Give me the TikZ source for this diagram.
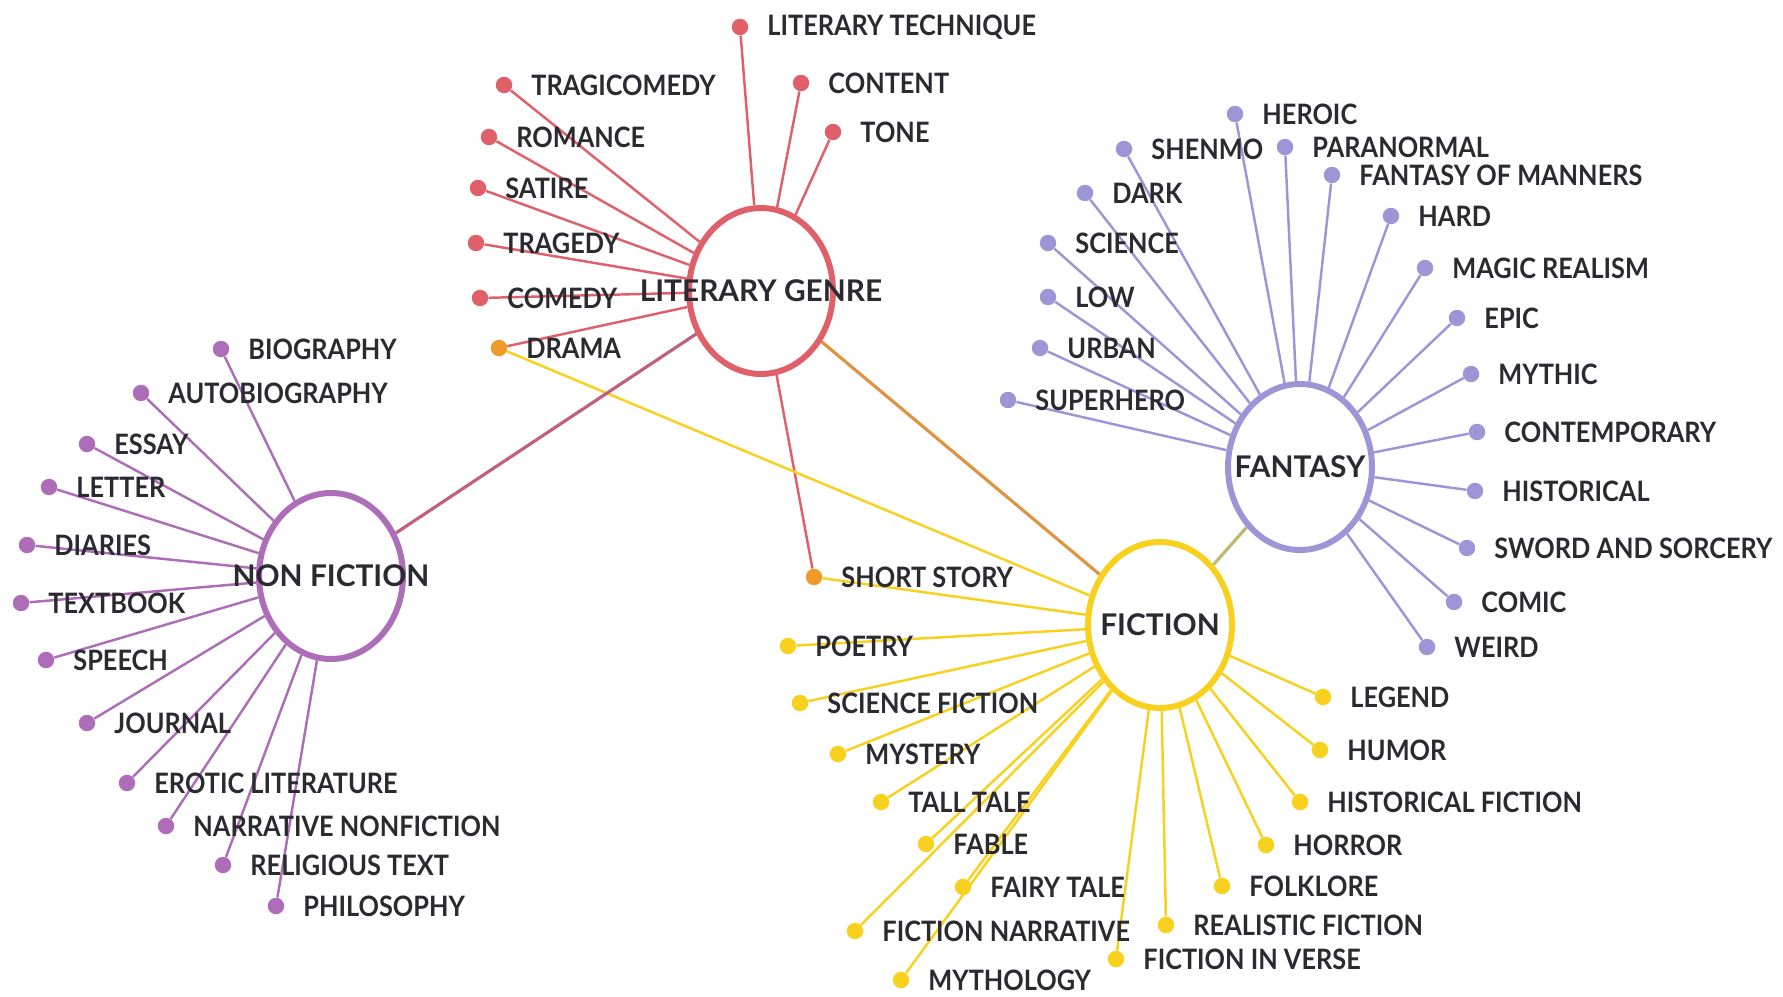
\documentclass[tikz,border=0pt]{standalone}
\usepackage{fontspec}
\setmainfont{Lato}
\newfontfamily\leaffont{Lato}[FakeStretch=0.9]
\usetikzlibrary{shapes.geometric,backgrounds}

\definecolor{ink}{HTML}{2A2A30}
\definecolor{genrered}{HTML}{E0606A}
\definecolor{nonpurple}{HTML}{AE6DB9}
\definecolor{fantlav}{HTML}{9C96D6}
\definecolor{fictyellow}{HTML}{F8D01E}
\definecolor{bothorange}{HTML}{EE9B2C}
\definecolor{nfgenre}{HTML}{C0607E}
\definecolor{genrefict}{HTML}{DE9440}
\definecolor{fantfict}{HTML}{BFB870}

\tikzset{
  hub/.style={ellipse,draw=#1,line width=3.4pt,fill=white,
    minimum width=2.88cm,minimum height=3.32cm,inner sep=0pt},
  hubtext/.style={font=\bfseries\fontsize{17}{20}\selectfont,text=ink,inner sep=0pt},
  leaftext/.style={font=\leaffont\bfseries\fontsize{16}{19}\selectfont,
    text=ink,inner sep=0pt,xshift=0.37cm},
  leaf/.style 2 args={circle,fill=#1,minimum size=0.33cm,inner sep=0pt,
    label={[leaftext]right:#2}},
  spoke/.style={draw=#1,line width=1.4pt},
  link/.style={draw=#1,line width=1.8pt}
}

\begin{document}
\begin{tikzpicture}[x=0.02cm,y=-0.02cm]
	\useasboundingbox (0,0) rectangle (1783,997);

	% hubs
	\node[hub=genrered,label={[hubtext]center:LITERARY GENRE}] (genre) at (761,291) {};
	\node[hub=nonpurple,label={[hubtext]center:NON FICTION}] (nonfict) at (331,576) {};
	\node[hub=fantlav,label={[hubtext]center:FANTASY}] (fantasy) at (1300,467) {};
	\node[hub=fictyellow,label={[hubtext]center:FICTION}] (fiction) at (1160,625) {};

	% literary genre
	\node[leaf={genrered}{LITERARY TECHNIQUE}] (technique) at (740,27) {};
	\node[leaf={genrered}{TRAGICOMEDY}] (tragicomedy) at (504,85) {};
	\node[leaf={genrered}{CONTENT}] (content) at (801,83) {};
	\node[leaf={genrered}{TONE}] (tone) at (833,132) {};
	\node[leaf={genrered}{ROMANCE}] (romance) at (489,137) {};
	\node[leaf={genrered}{SATIRE}] (satire) at (478,188) {};
	\node[leaf={genrered}{TRAGEDY}] (tragedy) at (476,243) {};
	\node[leaf={genrered}{COMEDY}] (comedy) at (480,298) {};
	\node[leaf={bothorange}{DRAMA}] (drama) at (499,348) {};

	% non fiction
	\node[leaf={nonpurple}{BIOGRAPHY}] (biography) at (221,349) {};
	\node[leaf={nonpurple}{AUTOBIOGRAPHY}] (autobiography) at (141,393) {};
	\node[leaf={nonpurple}{ESSAY}] (essay) at (87,444) {};
	\node[leaf={nonpurple}{LETTER}] (letter) at (49,487) {};
	\node[leaf={nonpurple}{DIARIES}] (diaries) at (27,545) {};
	\node[leaf={nonpurple}{TEXTBOOK}] (textbook) at (21,603) {};
	\node[leaf={nonpurple}{SPEECH}] (speech) at (46,660) {};
	\node[leaf={nonpurple}{JOURNAL}] (journal) at (87,723) {};
	\node[leaf={nonpurple}{EROTIC LITERATURE}] (erotic) at (127,783) {};
	\node[leaf={nonpurple}{NARRATIVE NONFICTION}] (narrative) at (166,826) {};
	\node[leaf={nonpurple}{RELIGIOUS TEXT}] (religious) at (223,865) {};
	\node[leaf={nonpurple}{PHILOSOPHY}] (philosophy) at (276,906) {};

	% fantasy
	\node[leaf={fantlav}{HEROIC}] (heroic) at (1235,114) {};
	\node[leaf={fantlav}{SHENMO}] (shenmo) at (1124,149) {};
	\node[leaf={fantlav}{PARANORMAL}] (paranormal) at (1285,147) {};
	\node[leaf={fantlav}{FANTASY OF MANNERS}] (manners) at (1332,175) {};
	\node[leaf={fantlav}{DARK}] (dark) at (1085,193) {};
	\node[leaf={fantlav}{HARD}] (hard) at (1391,216) {};
	\node[leaf={fantlav}{SCIENCE}] (science) at (1048,243) {};
	\node[leaf={fantlav}{MAGIC REALISM}] (magic) at (1425,268) {};
	\node[leaf={fantlav}{LOW}] (low) at (1048,297) {};
	\node[leaf={fantlav}{EPIC}] (epic) at (1457,318) {};
	\node[leaf={fantlav}{URBAN}] (urban) at (1040,348) {};
	\node[leaf={fantlav}{MYTHIC}] (mythic) at (1471,374) {};
	\node[leaf={fantlav}{SUPERHERO}] (superhero) at (1008,400) {};
	\node[leaf={fantlav}{CONTEMPORARY}] (contemporary) at (1477,432) {};
	\node[leaf={fantlav}{HISTORICAL}] (historical) at (1475,491) {};
	\node[leaf={fantlav}{SWORD AND SORCERY}] (sword) at (1467,548) {};
	\node[leaf={fantlav}{COMIC}] (comic) at (1454,602) {};
	\node[leaf={fantlav}{WEIRD}] (weird) at (1427,647) {};

	% fiction
	\node[leaf={bothorange}{SHORT STORY}] (shortstory) at (814,577) {};
	\node[leaf={fictyellow}{POETRY}] (poetry) at (788,646) {};
	\node[leaf={fictyellow}{SCIENCE FICTION}] (scifi) at (800,703) {};
	\node[leaf={fictyellow}{MYSTERY}] (mystery) at (838,754) {};
	\node[leaf={fictyellow}{TALL TALE}] (talltale) at (881,802) {};
	\node[leaf={fictyellow}{FABLE}] (fable) at (926,844) {};
	\node[leaf={fictyellow}{FAIRY TALE}] (fairytale) at (963,887) {};
	\node[leaf={fictyellow}{FICTION NARRATIVE}] (fnarrative) at (855,931) {};
	\node[leaf={fictyellow}{MYTHOLOGY}] (mythology) at (901,980) {};
	\node[leaf={fictyellow}{FICTION IN VERSE}] (verse) at (1116,959) {};
	\node[leaf={fictyellow}{REALISTIC FICTION}] (realistic) at (1166,925) {};
	\node[leaf={fictyellow}{FOLKLORE}] (folklore) at (1222,886) {};
	\node[leaf={fictyellow}{HORROR}] (horror) at (1266,845) {};
	\node[leaf={fictyellow}{HISTORICAL FICTION}] (histfiction) at (1300,802) {};
	\node[leaf={fictyellow}{HUMOR}] (humor) at (1320,750) {};
	\node[leaf={fictyellow}{LEGEND}] (legend) at (1323,697) {};

	\begin{pgfonlayer}{background}
	\foreach \leaf in {technique,tragicomedy,content,tone,romance,satire,tragedy,comedy,drama,shortstory}
	    \draw[spoke=genrered] (\leaf) -- (genre);
	\foreach \leaf in {biography,autobiography,essay,letter,diaries,textbook,speech,journal,erotic,narrative,religious,philosophy}
	    \draw[spoke=nonpurple] (\leaf) -- (nonfict);
	\foreach \leaf in {heroic,shenmo,paranormal,manners,dark,hard,science,magic,low,epic,urban,mythic,superhero,contemporary,historical,sword,comic,weird}
	    \draw[spoke=fantlav] (\leaf) -- (fantasy);
	\foreach \leaf in {drama,shortstory,poetry,scifi,mystery,talltale,fable,fairytale,fnarrative,mythology,verse,realistic,folklore,horror,histfiction,humor,legend}
	    \draw[spoke=fictyellow] (\leaf) -- (fiction);

	\draw[link=nfgenre] (nonfict) -- (genre);
	\draw[link=genrefict] (genre) -- (fiction);
	\draw[link=fantfict] (fantasy) -- (fiction);
	\end{pgfonlayer}

\end{tikzpicture}
\end{document}
